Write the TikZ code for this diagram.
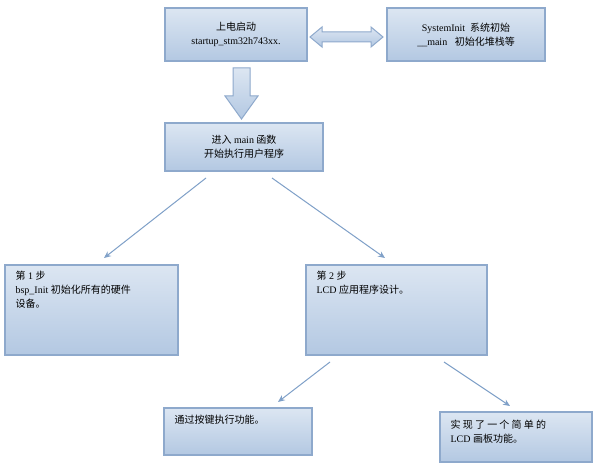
\documentclass[tikz,border=0pt]{standalone}
\usepackage{fontspec}
\setmainfont{Liberation Serif}
\newfontfamily\cjk{Noto Sans CJK SC}
\usetikzlibrary{shapes.arrows,arrows.meta}
\definecolor{bt}{HTML}{DCE6F2}
\definecolor{bb}{HTML}{B3C8E2}
\definecolor{bd}{HTML}{8EA9CC}
\definecolor{ln}{HTML}{7FA0C8}
\tikzset{
 bx/.style={draw=bd,line width=1.2pt,top color=bt,bottom color=bb,inner sep=0pt},
 tx/.style={font=\fontsize{10}{14}\selectfont,align=center},
 tl/.style={font=\fontsize{10}{14}\selectfont,align=left,anchor=north west},
 ar/.style={draw=ln,line width=1pt,-{Stealth[length=7pt,width=6pt]}},
 fat/.style={draw=bd,line width=1pt,top color=bt,bottom color=bb}
}
\begin{document}
\begin{tikzpicture}[x=1pt,y=-1pt]
\useasboundingbox[fill=white] (0,0) rectangle (600,465);
\path[bx] (165,8) rectangle (307,61) node[midway,tx] (n1) {\cjk 上电启动\\startup\_stm32h743xx.};
\path[bx] (387,8) rectangle (545,61) node[midway,tx] (n2) {SystemInit\ \ {\cjk 系统初始}\\\_\_main\ \ \ {\cjk 初始化堆栈等}};
\path[bx] (165,123) rectangle (323,171) node[midway,tx] (n3) {{\cjk 进入} main {\cjk 函数}\\{\cjk 开始执行用户程序}};
\path[bx] (5,265) rectangle (178,355);
\node[tl] (n4) at (12,268) {{\cjk 第} 1 {\cjk 步}\\bsp\_Init {\cjk 初始化所有的硬件}\\{\cjk 设备。}};
\path[bx] (306,265) rectangle (487,355);
\node[tl] (n5) at (313,268) {{\cjk 第} 2 {\cjk 步}\\LCD {\cjk 应用程序设计。}};
\path[bx] (164,408) rectangle (312,455);
\node[tl] (n6) at (171,412) {\cjk 通过按键执行功能。};
\path[bx] (440,412) rectangle (592,462);
\node[tl] (n7) at (447,416) {{\cjk 实 现 了 一 个 简 单 的}\\LCD {\cjk 画板功能。}};
% fat arrows
\path[fat] (310,37) -- (322,27) -- (322,32) -- (371,32) -- (371,27) -- (383,37) -- (371,47) -- (371,42) -- (322,42) -- (322,47) -- cycle;
\path[fat] (233,68) -- (250,68) -- (250,96) -- (258,96) -- (241.5,119) -- (225,96) -- (233,96) -- cycle;
\coordinate (a1) at (206,178); \coordinate (b1) at (104,258);
\coordinate (a2) at (272,178); \coordinate (b2) at (385,258);
\coordinate (a3) at (330,362); \coordinate (b3) at (278,402);
\coordinate (a4) at (444,362); \coordinate (b4) at (510,406);
\draw[ar] (a1) -- (b1);
\draw[ar] (a2) -- (b2);
\draw[ar] (a3) -- (b3);
\draw[ar] (a4) -- (b4);
\end{tikzpicture}
\end{document}
